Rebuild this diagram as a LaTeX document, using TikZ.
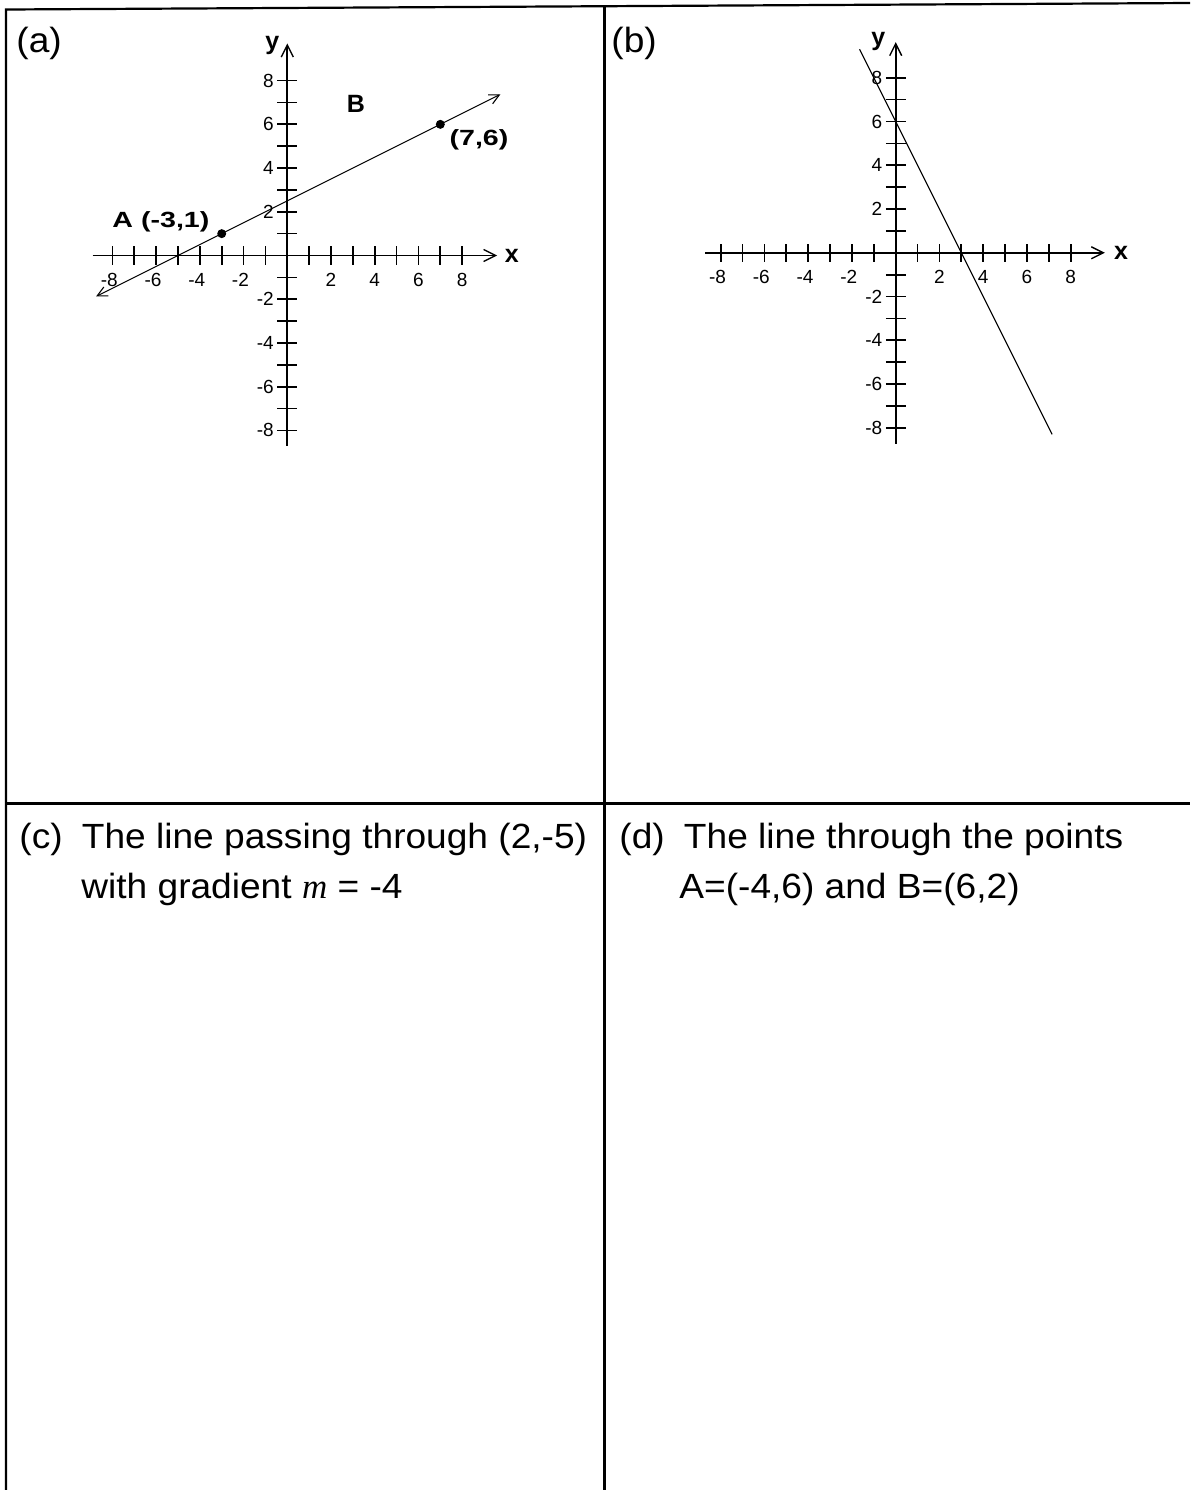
\documentclass[tikz,border=0pt]{standalone}
\usepackage{fontspec}
\setmainfont{Liberation Sans}
\newfontfamily\titlefont[FakeStretch=1.06]{Liberation Sans}
\newfontfamily\serifit{Liberation Serif}
\newfontfamily\lblfont[FakeStretch=1.3]{Liberation Sans}
\usetikzlibrary{arrows.meta}
\begin{document}
\begin{tikzpicture}[x=0.5pt,y=-0.5pt,
  frame/.style={line width=1.1pt},
  axisline/.style={line width=0.9pt,-{Straight Barb[length=6pt,width=6pt,line width=0.7pt]}},
  tickline/.style={line width=0.85pt},
  gline/.style={line width=0.55pt},
  ticklab/.style={font=\fontsize{9.5}{11}\selectfont,inner sep=0pt},
  axlab/.style={font=\fontsize{12.5}{14}\selectfont\bfseries,inner sep=0pt},
  ptlab/.style={font=\lblfont\fontsize{11}{13}\selectfont\bfseries,inner sep=0pt},
  title/.style={font=\titlefont\fontsize{17.5}{21}\selectfont,inner sep=0pt,anchor=base west},
  dot/.style={circle,fill=black,inner sep=0pt,minimum size=4.5pt}
]
\useasboundingbox (0,0) rectangle (1190,1490);
% frame
\coordinate (tl) at (6,9.5);
\coordinate (tr) at (1190,3);
\coordinate (bl) at (6,1490);
\coordinate (vt) at (604.5,5.5);
\coordinate (vb) at (604.5,1490);
\coordinate (hl) at (6,803.5);
\coordinate (hr) at (1190,803.5);
\draw[frame] (tr) -- (tl) -- (bl);
\draw[frame] (vt) -- (vb);
\draw[frame] (hl) -- (hr);

% titles
\node[title] (ta) at (16,52.3) {(a)};
\node[title] (tb) at (611,52.3) {(b)};
\node[title] (tc1) at (19,848.3) {(c)\hspace{0.55em}The line passing through (2,-5)};
\node[title] (tc2) at (81,898.3) {with gradient {\serifit\itshape m} = -4};
\node[title] (td1) at (619,848.3) {(d)\hspace{0.55em}The line through the points};
\node[title] (td2) at (679,898.3) {A=(-4,6) and B=(6,2)};

% graph (a)
\begin{scope}[shift={(287.3,255.5)},x=10.93pt,y=10.93pt]
  \foreach \i in {-8,...,-1,1,2,...,8} {
    \draw[tickline] (\i,-0.42) -- (\i,0.42);
    \draw[tickline] (-0.45,\i) -- (0.45,\i);
  }
  \coordinate (axL) at (-8.9,0);
  \coordinate (axR) at (9.6,0);
  \coordinate (ayB) at (0,-8.7);
  \coordinate (ayT) at (0,9.7);
  \draw[axisline] (axL) -- (axR);
  \draw[axisline] (ayB) -- (ayT);
  \foreach \i in {2,4,6,8} {
    \node[ticklab,anchor=base] (axp\i) at (\i,-1.42) {\i};
    \node[ticklab,anchor=base] (axn\i) at (-\i,-1.42) {\llap{-}\i};
    \node[ticklab,anchor=east] (ayp\i) at (-0.6,\i) {\i};
    \node[ticklab,anchor=east] (ayn\i) at (-0.6,-\i) {-\i};
  }
  \node[axlab] (xa) at (10.27,0) {x};
  \node[axlab] (ya) at (-0.69,9.63) {y};
  \coordinate (aL) at (-8.75,-1.875);
  \coordinate (aR) at (9.75,7.375);
  \draw[gline,{Straight Barb[length=5pt,width=5pt]}-{Straight Barb[length=5pt,width=5pt]}] (aL) -- (aR);
  \node[dot] (A) at (-3,1) {};
  \node[dot] (B) at (7,6) {};
  \node[ptlab] (Alab) at (-5.78,1.53) {A (-3,1)};
  \node[font=\fontsize{12.5}{14}\selectfont\bfseries,inner sep=0pt] (Blab) at (3.14,6.93) {B};
  \node[ptlab] (Bcoord) at (8.77,5.28) {(7,6)};
\end{scope}

% graph (b)
\begin{scope}[shift={(895.7,252.8)},x=10.94pt,y=10.94pt]
  \foreach \i in {-8,...,-1,1,2,...,8} {
    \draw[tickline] (\i,-0.42) -- (\i,0.42);
    \draw[tickline] (-0.45,\i) -- (0.45,\i);
  }
  \coordinate (bxL) at (-8.7,0);
  \coordinate (bxR) at (9.56,0);
  \coordinate (byB) at (0,-8.73);
  \coordinate (byT) at (0,9.63);
  \draw[axisline] (bxL) -- (bxR);
  \draw[axisline] (byB) -- (byT);
  \foreach \i in {2,4,6,8} {
    \node[ticklab,anchor=base] (bxp\i) at (\i,-1.4) {\i};
    \node[ticklab,anchor=base] (bxn\i) at (-\i,-1.4) {\llap{-}\i};
    \node[ticklab,anchor=east] (byp\i) at (-0.6,\i) {\i};
    \node[ticklab,anchor=east] (byn\i) at (-0.6,-\i) {-\i};
  }
  \node[axlab] (xb) at (10.3,0) {x};
  \node[axlab] (yb) at (-0.8,9.65) {y};
  \coordinate (bL) at (-1.65,9.3);
  \coordinate (bR) at (7.15,-8.3);
  \draw[gline] (bL) -- (bR);
\end{scope}
\end{tikzpicture}
\end{document}
